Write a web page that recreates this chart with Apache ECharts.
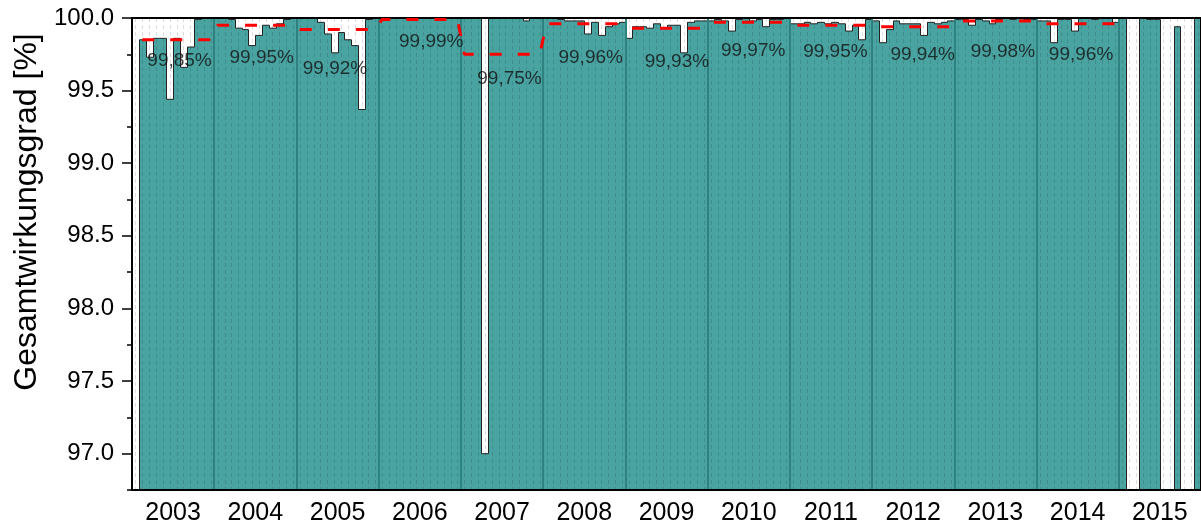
<!DOCTYPE html>
<html>
<head>
<meta charset="utf-8">
<script src="https://cdn.jsdelivr.net/npm/echarts@6/dist/echarts.min.js"></script>
<style>
    html, body { margin: 0; padding: 0; background: #fff; }
    #chart { width: 1201px; height: 526px; }
</style>
</head>
<body>
<div id="chart"></div>
<script>
// monthly overall efficiency [%], one array per year (null = no value)
var years = ['2003', '2004', '2005', '2006', '2007', '2008', '2009', '2010', '2011', '2012', '2013', '2014', '2015'];
var eff2003 = [null, 99.85, 99.73, 99.86, 99.86, 99.44, 99.86, 99.66, 99.80, 99.99, 100, 100];
var eff2004 = [100, 100, 99.99, 99.93, 99.92, 99.81, 99.88, 99.95, 99.93, 99.96, 99.99, 100];
var eff2005 = [100, 100, 100, 99.97, 99.89, 99.76, 99.90, 99.85, 99.81, 99.37, 99.99, 100];
var eff2006 = [99.99, 100, 100, 100, 99.99, 100, 100, 100, 100, 100, 100, 100];
var eff2007 = [100, 100, 100, 97.00, 100, 100, 100, 100, 100, 99.98, 100, 100];
var eff2008 = [100, 100, 99.99, 99.98, 99.98, 99.98, 99.89, 99.97, 99.88, 99.94, 99.96, 99.97];
var eff2009 = [99.86, 99.94, 99.94, 99.93, 99.96, 99.93, 99.95, 99.95, 99.76, 99.97, 99.98, 99.98];
var eff2010 = [99.98, 99.99, 99.98, 99.91, 99.99, 100, 99.98, 99.99, 99.94, 99.99, 99.99, 100];
var eff2011 = [99.96, 99.96, 99.97, 99.96, 99.97, 99.96, 99.97, 99.96, 99.91, 99.95, 99.85, 99.99];
var eff2012 = [99.98, 99.83, 99.92, 99.98, 99.96, 99.96, 99.96, 99.88, 99.97, 99.96, 99.97, 99.98];
var eff2013 = [99.99, 99.99, 99.95, 99.99, 99.98, 99.96, 99.99, 100, 99.99, 100, 99.99, 99.99];
var eff2014 = [99.98, 99.98, 99.83, 99.99, 99.99, 99.91, 100, 100, 99.99, 100, 100, 99.97];
var eff2015 = [100, null, null, 100, 99.99, 99.99, null, null, 99.94, null, null, 100];

// yearly mean (red dashed line + labels)
var yearAvg = [99.85, 99.95, 99.92, 99.99, 99.75, 99.96, 99.93, 99.97, 99.95, 99.94, 99.98, 99.96];

var yTicks = [97.0, 97.5, 98.0, 98.5, 99.0, 99.5, 100.0];
var yMinorTicks = [96.75, 97.25, 97.75, 98.25, 98.75, 99.25, 99.75];

// layout only: pixel nudges of the yearly labels
var labelShift = [[3, 21], [3, 33], [-6, 39], [8, 22], [4, 24], [3, 34], [7, 34], [1, 28], [1, 27], [6, 28], [4, 31], [0, 31]];

var Y_MIN = 96.75, Y_MAX = 100;
var TEAL = '#49a3a1';
var FONT = '"Liberation Sans", Arial, sans-serif';

var monthly = [].concat(eff2003, eff2004, eff2005, eff2006, eff2007, eff2008, eff2009,
    eff2010, eff2011, eff2012, eff2013, eff2014, eff2015);
var months = [];
years.forEach(function (y) {
    for (var m = 1; m <= 12; m++) months.push(y + '-' + (m < 10 ? '0' + m : m));
});

var barData = [];
monthly.forEach(function (v, i) {
    if (v != null) barData.push([i, v]);
});
var gridData = months.map(function (m, i) { return [i, Y_MAX]; });
var avgLine = monthly.map(function (v, i) {
    var k = Math.floor(i / 12);
    return (k < yearAvg.length && v != null) ? yearAvg[k] : null;
});
var labelData = yearAvg.map(function (a, k) {
    return { value: [k * 12 + 6, a], label: { offset: labelShift[k] } };
});

function barRect(params, api) {
    var i = api.value(0), v = api.value(1);
    var p = api.coord([i, v]);
    var base = api.coord([i, Y_MIN]);
    var w = api.size([1, 0])[0];
    var x0 = Math.round(p[0] - w / 2), x1 = Math.round(p[0] + w / 2);
    return {
        type: 'rect',
        shape: { x: x0, y: p[1], width: x1 - x0, height: base[1] - p[1] },
        style: { fill: TEAL }
    };
}

function barEdge(params, api) {
    var i = api.value(0), v = api.value(1);
    var p = api.coord([i, v]);
    var w = api.size([1, 0])[0];
    var x0 = Math.round(p[0] - w / 2) + 0.5, x1 = Math.round(p[0] + w / 2) + 0.5;
    var prev = i > 0 ? monthly[i - 1] : null;
    var next = i < monthly.length - 1 ? monthly[i + 1] : null;
    var yBase = api.coord([i, Y_MIN])[1];
    var yNext = next == null ? yBase : api.coord([i, next])[1];
    var pts = [];
    if (prev == null) pts.push([x0, yBase]);
    pts.push([x0, p[1]], [x1, p[1]], [x1, yNext]);
    return {
        type: 'polyline',
        shape: { points: pts },
        style: { stroke: '#222', lineWidth: 1, fill: null }
    };
}

function monthGridLine(params, api) {
    var i = api.value(0);
    var top = api.coord([i, Y_MAX]), bot = api.coord([i, Y_MIN]);
    var x = Math.round(top[0]) + 0.5;
    return {
        type: 'line',
        shape: { x1: x, y1: top[1], x2: x, y2: bot[1] },
        style: { stroke: 'rgba(0,0,0,0.13)', lineWidth: 1, lineDash: [4, 3] }
    };
}

var myChart = echarts.init(document.getElementById('chart'));

var option = {
    animation: false,
    backgroundColor: '#fff',
    grid: {
        left: 132, top: 18, width: 1073, height: 472,
        show: true, z: 7,
        borderColor: '#000', borderWidth: 2,
        backgroundColor: 'transparent'
    },
    graphic: [{
        type: 'text',
        x: 27, y: 212,
        rotation: Math.PI / 2,
        style: {
            text: 'Gesamtwirkungsgrad [%]',
            fontSize: 32, fontFamily: FONT, fill: '#000',
            align: 'center', verticalAlign: 'middle'
        }
    }],
    xAxis: [
        {   // months: axis line + minor ticks
            type: 'category',
            data: months,
            position: 'bottom',
            boundaryGap: true,
            z: 6,
            axisLine: { lineStyle: { color: '#000', width: 2 } },
            axisTick: { interval: 0, length: 7, lineStyle: { color: '#000', width: 1.5 } },
            axisLabel: { show: false },
            splitLine: { show: false }
        },
        {   // years: labels, major ticks, year separators
            type: 'category',
            data: years,
            position: 'bottom',
            boundaryGap: true,
            z: 5,
            axisLine: { show: false },
            axisTick: { interval: 0, length: 11, lineStyle: { color: '#000', width: 1.5 } },
            axisLabel: { interval: 0, margin: 11, fontSize: 25, fontFamily: FONT, color: '#000' },
            splitLine: { show: true, interval: 0, lineStyle: { color: '#2f817f', width: 2 } }
        }
    ],
    yAxis: [
        {
            type: 'value',
            min: Y_MIN, max: Y_MAX,
            position: 'left',
            z: 6,
            axisLine: { show: true, lineStyle: { color: '#000', width: 2 } },
            axisTick: { show: true, customValues: yTicks, length: 10, lineStyle: { color: '#000', width: 1.5 } },
            axisLabel: {
                customValues: yTicks,
                margin: 18, fontSize: 24, fontFamily: FONT, color: '#000',
                formatter: function (v) { return Number(v).toFixed(1); }
            },
            splitLine: { show: false }
        },
        {
            type: 'value',
            min: Y_MIN, max: Y_MAX,
            position: 'left',
            z: 6,
            axisLine: { show: false },
            axisTick: { show: true, customValues: yMinorTicks, length: 5, lineStyle: { color: '#000', width: 1.5 } },
            axisLabel: { show: false },
            splitLine: { show: false }
        }
    ],
    series: [
        {
            name: 'bars',
            type: 'custom',
            renderItem: barRect,
            data: barData,
            encode: { x: 0, y: 1 },
            z: 2
        },
        {
            name: 'grid',
            type: 'custom',
            renderItem: monthGridLine,
            data: gridData,
            encode: { x: 0, y: 1 },
            silent: true,
            z: 3
        },
        {
            name: 'outline',
            type: 'custom',
            renderItem: barEdge,
            data: barData,
            encode: { x: 0, y: 1 },
            z: 4
        },
        {
            name: 'Jahresmittel',
            type: 'line',
            data: avgLine,
            symbol: 'none',
            connectNulls: false,
            lineStyle: { color: '#ff0000', width: 3, type: [12, 16] },
            z: 10
        },
        {
            name: 'labels',
            type: 'scatter',
            data: labelData,
            symbolSize: 1,
            itemStyle: { color: 'rgba(0,0,0,0)' },
            label: {
                show: true,
                position: 'inside',
                fontSize: 19, fontFamily: FONT, color: '#111',
                formatter: function (p) {
                    return p.value[1].toFixed(2).replace('.', ',') + '%';
                }
            },
            z: 11
        }
    ]
};

myChart.setOption(option);
</script>
</body>
</html>
